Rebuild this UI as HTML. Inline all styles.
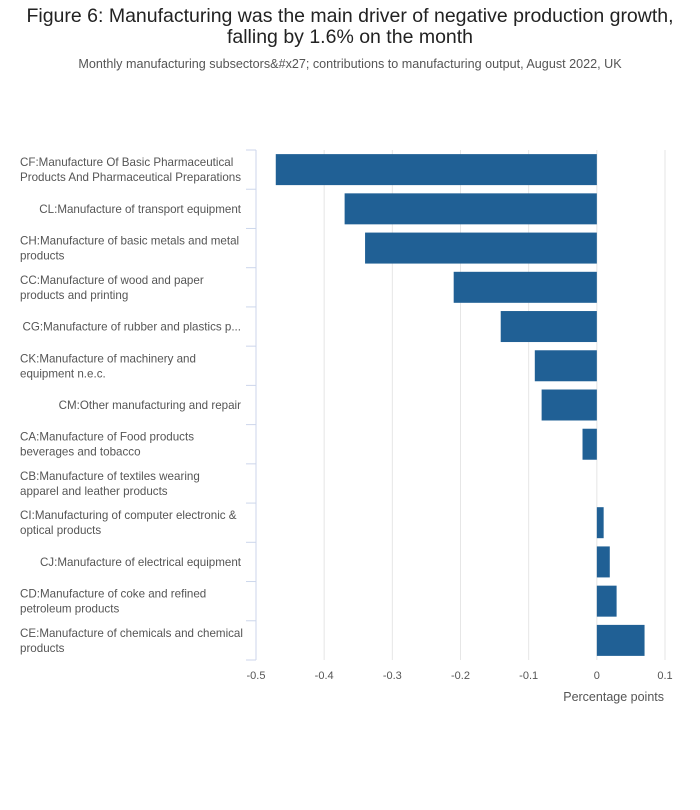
<!DOCTYPE html>
<html><head><meta charset="utf-8">
<style>
body{margin:0;background:#fff;font-family:"Liberation Sans",sans-serif;}
#wrap{position:relative;width:700px;height:810px;}
.t{position:absolute;left:0;width:700px;text-align:center;color:#222;}
</style></head>
<body><div id="wrap">
<div class="t" style="top:6px;font-size:19.5px;line-height:21px;left:0;width:700px;">Figure 6: Manufacturing was the main driver of negative production growth,<br>falling by 1.6% on the month</div>
<div class="t" style="top:57px;font-size:12.6px;color:#555;">Monthly manufacturing subsectors&amp;#x27; contributions to manufacturing output, August 2022, UK</div>
<svg id="c" width="700" height="810" style="position:absolute;left:0;top:0"></svg>
</div>
<script>
const categories=[
["CF:Manufacture Of Basic Pharmaceutical","Products And Pharmaceutical Preparations"],
["CL:Manufacture of transport equipment"],
["CH:Manufacture of basic metals and metal","products"],
["CC:Manufacture of wood and paper","products and printing"],
["CG:Manufacture of rubber and plastics p..."],
["CK:Manufacture of machinery and","equipment n.e.c."],
["CM:Other manufacturing and repair"],
["CA:Manufacture of Food products","beverages and tobacco"],
["CB:Manufacture of textiles wearing","apparel and leather products"],
["CI:Manufacturing of computer electronic &","optical products"],
["CJ:Manufacture of electrical equipment"],
["CD:Manufacture of coke and refined","petroleum products"],
["CE:Manufacture of chemicals and chemical","products"]];
const values=[-0.471,-0.37,-0.34,-0.21,-0.141,-0.091,-0.081,-0.021,0,0.01,0.019,0.029,0.07];
const ticks=[-0.5,-0.4,-0.3,-0.2,-0.1,0,0.1];
const tickLabels=["-0.5","-0.4","-0.3","-0.2","-0.1","0","0.1"];
const NS="http://www.w3.org/2000/svg";
const svg=document.getElementById('c');
const x0=256,x1=665,yTop=150,yBot=660;
function xs(v){return x0+(v+0.5)/0.6*(x1-x0);}
const band=(yBot-yTop)/categories.length;
function ys(i){return yTop+i*band;}
function mk(tag,attrs,parent){const e=document.createElementNS(NS,tag);for(const k in attrs)e.setAttribute(k,attrs[k]);(parent||svg).appendChild(e);return e;}
ticks.forEach((t,i)=>{
 const g=mk('line',{x1:xs(t),x2:xs(t),y1:yTop,y2:yBot,stroke:'#e6e6e6','stroke-width':1});
 
 
 const tx=mk('text',{x:xs(t),y:yBot+19,'text-anchor':'middle','font-size':11,fill:'#555','font-family':'Liberation Sans,sans-serif'});
 tx.textContent=tickLabels[i];
 
 
});
const ax=mk('line',{x1:x0,x2:x0,y1:yTop,y2:yBot,stroke:'#ccd6eb','stroke-width':1});


for(let i=0;i<=categories.length;i++){
 const tk=mk('line',{x1:x0-10,x2:x0,y1:ys(i),y2:ys(i),stroke:'#ccd6eb','stroke-width':1});
 
 
}
categories.forEach((c,i)=>{
 const cy=ys(i)+band/2;
 const v=values[i];
 const r=mk('rect',{x:Math.min(xs(v),xs(0)),y:cy-15.5,width:Math.abs(xs(v)-xs(0)),height:31,fill:'#206095'});
 
 
 const wide=c.length>1;
 const tx=mk('text',{x:wide?20:241,'text-anchor':wide?'start':'end','font-size':11.6,fill:'#555','font-family':'Liberation Sans,sans-serif'});
 
 
 c.forEach((line,j)=>{
  const ts=mk('tspan',{x:wide?20:241,y:cy+4+(j-(c.length-1)/2)*15},tx);
  ts.textContent=line;
 });
});
const at=mk('text',{x:664,y:701,'text-anchor':'end','font-size':12.5,fill:'#555','font-family':'Liberation Sans,sans-serif'});
at.textContent='Percentage points';


</script></body></html>
